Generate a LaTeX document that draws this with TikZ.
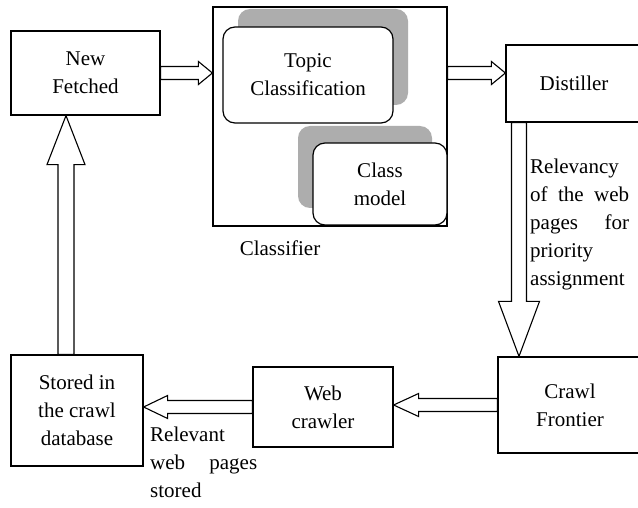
\documentclass[tikz,border=0pt]{standalone}
\usepackage{fontspec}
\setmainfont{Liberation Serif}
\usetikzlibrary{calc,shadows}
\definecolor{shadowgray}{gray}{0.68}

\begin{document}
\begin{tikzpicture}[x=1pt,y=-1pt,
  every node/.style={font=\fontsize{21}{28}\selectfont,align=center},
  box/.style={draw,line width=1.2pt,fill=white,inner sep=0pt},
  rbox/.style={box,rounded corners=12pt},
  barrow/.style n args={3}{draw,line width=1.1pt,fill=white,to path={
    ($(\tikztostart)!#1!90:(\tikztotarget)$)
    -- ($(\tikztotarget)!#3!(\tikztostart)!#1!90:(\tikztotarget)$)
    -- ($(\tikztotarget)!#3!(\tikztostart)!#2!90:(\tikztotarget)$)
    -- (\tikztotarget)
    -- ($(\tikztotarget)!#3!(\tikztostart)!#2!-90:(\tikztotarget)$)
    -- ($(\tikztotarget)!#3!(\tikztostart)!#1!-90:(\tikztotarget)$)
    -- ($(\tikztostart)!#1!-90:(\tikztotarget)$) -- cycle}}]
 \useasboundingbox (0,0) rectangle (638,508);
 % top row
 \node[box,minimum width=149pt,minimum height=84pt] (nf) at (85.5,73) {New\\Fetched};
 \node[box,minimum width=234pt,minimum height=219pt] (cl) at (330,116.5) {};
 \node[rbox,minimum width=170pt,minimum height=96pt,
   drop shadow={shadow xshift=15pt,shadow yshift=18pt,fill=shadowgray,opacity=1}]
   (tc) at (308,75) {Topic\\Classification};
 \node[rbox,minimum width=134pt,minimum height=82pt,
   drop shadow={shadow xshift=-15pt,shadow yshift=17pt,fill=shadowgray,opacity=1}]
   (cm) at (380,184) {Class\\model};
 \node (clt) at (280,248) {Classifier};
 \node[box,minimum width=136pt,minimum height=77pt] (d) at (574,83.5) {Distiller};
 % bottom row
 \node[box,minimum width=144pt,minimum height=96pt] (cf) at (570,405) {Crawl\\Frontier};
 \node[box,minimum width=140pt,minimum height=80pt] (wc) at (323,407) {Web\\crawler};
 \node[box,minimum width=132pt,minimum height=111pt] (s) at (77,410.5) {Stored in\\the crawl\\database};
 % labels
 \node[anchor=north west,inner sep=0pt,text width=99pt,align=left] (rel) at (530,159)
   {Relevancy\\of\hfill the\hfill web\\pages\hfill for\\priority\\assignment};
 \node[anchor=north west,inner sep=0pt,text width=107pt,align=left] (rws) at (150,427)
   {Relevant\\web\hfill pages\\stored};
 % arrows
 \coordinate (dn) at (519,0);
 \coordinate (up) at (66,0);
 \draw[barrow={6.5pt}{11.5pt}{14pt}] (nf.east) to (nf.east -| cl.west);
 \draw[barrow={6.5pt}{11.5pt}{14pt}] (nf.east -| cl.east) to (nf.east -| d.west);
 \draw[barrow={7.5pt}{20.5pt}{55pt}] (d.south -| dn) to (cf.north -| dn);
 \draw[barrow={6.5pt}{11.5pt}{25pt}] (cf.west) to (cf.west -| wc.east);
 \draw[barrow={6.5pt}{11.5pt}{24pt}] (wc.west) to (wc.west -| s.east);
 \draw[barrow={8pt}{19pt}{49pt}] (s.north -| up) to (nf.south -| up);
\end{tikzpicture}
\end{document}
